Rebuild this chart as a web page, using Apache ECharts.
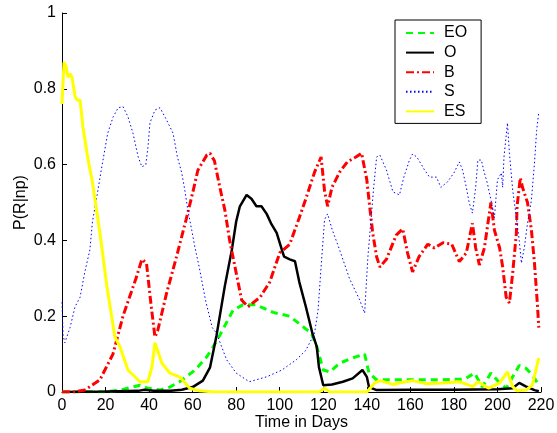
<!DOCTYPE html>
<html>
<head>
<meta charset="utf-8">
<script src="https://cdn.jsdelivr.net/npm/echarts@6/dist/echarts.min.js"></script>
<style>
html,body{margin:0;padding:0;background:#fff;}
#c{width:557px;height:433px;}
</style>
</head>
<body>
<div id="c"></div>
<script>
var xTicks = [0, 20, 40, 60, 80, 100, 120, 140, 160, 180, 200, 220];
var yTicks = [0, 0.2, 0.4, 0.6, 0.8, 1];
var seriesNames = ['EO', 'O', 'B', 'S', 'ES'];

var eoDays = [0,20,26.6,35.8,39.4,45,49.5,54,60,63,66.5,69,72.5,78.5,83,89,97,104.6,109,114.5,117,120,123,127.5,133.5,139,141,144.5,153.7,170,185,189.5,193,197,201,204,207,210,213,216,219];
var eoVals = [0,0.001,0.005,0.018,0.01,0.005,0.013,0.027,0.053,0.07,0.093,0.115,0.15,0.215,0.23,0.23,0.21,0.2,0.18,0.155,0.12,0.058,0.053,0.076,0.09,0.1,0.05,0.032,0.032,0.032,0.034,0.05,0.013,0.05,0.024,0.01,0.04,0.07,0.063,0.045,0.018];

var oDays = [0,20,35,38,42,50,55,60,64.7,68,71,74.8,78,80,81.7,84.8,87,89.3,91.6,94,96,98.6,101,102,104.6,107,109,112,115,117,118,120,124,129,133.5,138,140,141,144.5,160,180,200,207,210,213,217,219];
var oVals = [0,0.001,0.003,0.006,0.003,0.003,0.006,0.013,0.03,0.065,0.15,0.28,0.375,0.45,0.49,0.52,0.51,0.49,0.49,0.47,0.445,0.42,0.375,0.357,0.35,0.345,0.29,0.225,0.155,0.12,0.066,0.018,0.02,0.027,0.036,0.058,0.04,0.013,0.005,0.006,0.006,0.007,0.01,0.024,0.015,0.005,0.002];

var bDays = [0,5,10.5,17.4,23.4,28,31,34,36.7,38.8,41,42.7,44,48,52.6,57,60,62.4,66.5,68,70,72.5,74.8,77,82.5,85.4,91,95.4,100,104.6,109,112,116,119,120.6,122,124,127.5,131,135,137.6,140,141.3,142.7,144.5,146,149,153.5,156.5,158.7,161,164,168,171,175,179,182.5,185.7,188.5,190,191.7,194,196,197,198.6,201,202.4,204,205.5,207,208.7,209,210.5,211.5,213.8,215.6,217,218.3,219];
var bVals = [0,0,0.005,0.032,0.1,0.2,0.25,0.3,0.35,0.34,0.225,0.145,0.163,0.26,0.357,0.455,0.525,0.585,0.625,0.63,0.61,0.54,0.48,0.40,0.243,0.225,0.25,0.29,0.367,0.39,0.46,0.51,0.58,0.62,0.53,0.49,0.54,0.58,0.607,0.62,0.63,0.56,0.49,0.42,0.357,0.33,0.35,0.414,0.43,0.367,0.317,0.357,0.39,0.38,0.394,0.39,0.344,0.367,0.445,0.38,0.335,0.38,0.46,0.5,0.427,0.38,0.33,0.25,0.235,0.314,0.42,0.49,0.565,0.54,0.5,0.427,0.34,0.235,0.17];

var sDays = [0,0.5,1.3,3.7,6,8.3,10.5,12.8,14,16,18,19.7,21,23.5,25.8,28,30.3,32.6,35,36.7,38.5,39.5,40.4,42.7,45,48,51,53,55,56.4,57.8,59.6,61,63,66,69,71,75.6,80,86,94,101,107.6,112,116,117.6,119,120.6,122,124,127.5,132,136.7,139,140.5,142,143,144.5,146,149,152,155,157,159.6,161,163,166.5,168.8,172,174,177,180,182.5,184,185.7,187,188.5,190,191,192.6,194,195.4,197,198.6,200,201.8,202.4,203,204.6,205.5,207,208.7,210,211,212.4,213.8,215.6,217,218,219];
var sVals = [0.237,0.15,0.13,0.17,0.225,0.25,0.317,0.375,0.45,0.515,0.585,0.64,0.683,0.726,0.75,0.753,0.726,0.683,0.62,0.594,0.6,0.647,0.71,0.744,0.75,0.718,0.683,0.62,0.578,0.533,0.48,0.427,0.383,0.33,0.24,0.17,0.155,0.085,0.05,0.027,0.04,0.058,0.085,0.11,0.155,0.216,0.33,0.455,0.47,0.43,0.375,0.30,0.243,0.208,0.357,0.46,0.53,0.62,0.625,0.586,0.528,0.52,0.567,0.612,0.628,0.62,0.586,0.567,0.567,0.54,0.554,0.578,0.607,0.585,0.54,0.5,0.472,0.54,0.612,0.612,0.578,0.55,0.507,0.46,0.56,0.578,0.54,0.62,0.71,0.63,0.533,0.46,0.40,0.34,0.383,0.445,0.507,0.604,0.69,0.74];

var esDays = [0,0.9,1.8,2.8,3.7,4.6,6,6.9,8.3,9.6,11.5,12.4,13.8,15.1,17.4,20.6,24.3,26.6,30.3,35.8,39.4,41.3,42.7,43.6,45.9,49.5,54,58.7,63,70,118,120.6,123,140,143.6,146,152,156,161,167,175,182.5,188.7,191,196,201,204.6,207,209,213,216,219];
var esVals = [0.76,0.87,0.86,0.83,0.84,0.83,0.78,0.77,0.77,0.70,0.63,0.60,0.56,0.51,0.42,0.28,0.145,0.12,0.058,0.027,0.027,0.066,0.13,0.135,0.076,0.05,0.04,0.01,0.003,0,0,0.01,0,0,0.024,0.03,0.02,0.025,0.03,0.022,0.024,0.027,0.014,0.027,0.01,0.024,0.053,0.014,0.003,0.005,0.018,0.09];

function pairs(xs, ys) {
  var out = [];
  for (var i = 0; i < xs.length; i++) out.push([xs[i], ys[i]]);
  return out;
}

var FONT = 'Liberation Sans, Arial, sans-serif';
var chart = echarts.init(document.getElementById('c'), null, {renderer: 'canvas'});

function mk(name, xs, ys, color, width, type) {
  return {
    name: name, type: 'line', data: pairs(xs, ys), showSymbol: false, symbol: 'none',
    smooth: false, animation: false,
    lineStyle: {color: color, width: width, type: type},
    itemStyle: {color: color},
    emphasis: {disabled: true}
  };
}

chart.setOption({
  animation: false,
  backgroundColor: '#ffffff',
  grid: {left: 62, right: 16, top: 13, bottom: 41, outerBoundsMode: 'none', containLabel: false},
  legend: {
    orient: 'vertical', left: 395, top: 20,
    data: seriesNames,
    backgroundColor: '#fff',
    borderColor: '#000', borderWidth: 1,
    padding: [5, 14, 4, 10],
    itemWidth: 28, itemHeight: 14, itemGap: 3.6,
    itemStyle: {color: 'rgba(0,0,0,0)', borderWidth: 0, opacity: 0},
    textStyle: {fontFamily: FONT, fontSize: 16, lineHeight: 14, color: '#000', padding: [0, 0, 0, 5]},
    selectedMode: false
  },
  xAxis: {
    type: 'value', min: 0, max: 220, interval: 20,
    name: 'Time in Days', nameLocation: 'middle', nameGap: 23, nameMoveOverlap: false,
    nameTextStyle: {fontFamily: FONT, fontSize: 16, color: '#000'},
    axisLine: {show: true, lineStyle: {color: '#000', width: 1}},
    axisTick: {show: true, inside: true, length: 5, lineStyle: {color: '#000'}},
    axisLabel: {fontFamily: FONT, fontSize: 16, color: '#000', margin: 6,
      formatter: function (v) { return xTicks.indexOf(v) >= 0 ? String(v) : ''; }},
    splitLine: {show: false}
  },
  yAxis: {
    type: 'value', min: 0, max: 1, interval: 0.2,
    name: 'P(R|np)', nameLocation: 'middle', nameGap: 33, nameRotate: 90, nameMoveOverlap: false,
    nameTextStyle: {fontFamily: FONT, fontSize: 16, color: '#000'},
    axisLine: {show: true, lineStyle: {color: '#000', width: 1}},
    axisTick: {show: true, inside: true, length: 5, lineStyle: {color: '#000'}},
    axisLabel: {fontFamily: FONT, fontSize: 16, color: '#000', margin: 6,
      formatter: function (v) {
        for (var i = 0; i < yTicks.length; i++) if (Math.abs(yTicks[i] - v) < 1e-9) return String(yTicks[i]);
        return '';
      }},
    splitLine: {show: false}
  },
  series: [
    mk('EO', eoDays, eoVals, '#00ff00', 3, [7, 5]),
    mk('O', oDays, oVals, '#000000', 2.5, 'solid'),
    mk('B', bDays, bVals, '#ff0000', 3, [8, 3, 2, 3]),
    mk('S', sDays, sVals, '#0000ff', 1, [1.5, 2.5]),
    mk('ES', esDays, esVals, '#ffff00', 3, 'solid')
  ]
});
</script>
</body>
</html>
